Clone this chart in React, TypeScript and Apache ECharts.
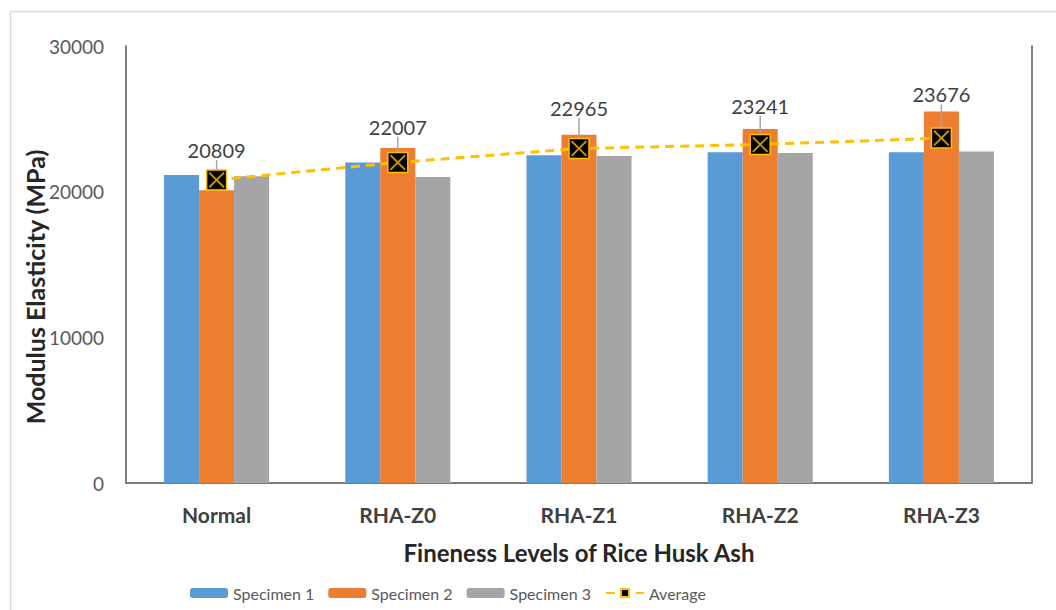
import React, { useEffect, useRef } from "react";
import * as echarts from "echarts";

const categories = ["Normal", "RHA-Z0", "RHA-Z1", "RHA-Z2", "RHA-Z3"];
const specimen1 = [21150, 22000, 22500, 22700, 22700];
const specimen2 = [20100, 23000, 23900, 24300, 25500];
const specimen3 = [21050, 21000, 22450, 22650, 22750];
const average = [20809, 22007, 22965, 23241, 23676];
const yTicks = [0, 10000, 20000, 30000];
const yTitle = "Modulus Elasticity (MPa)";
const xTitle = "Fineness Levels of Rice Husk Ash";

const X_PATH =
  "path://M1.6,0 L20,18.4 L18.4,20 L0,1.6 Z M18.4,0 L20,1.6 L1.6,20 L0,18.4 Z";

export default function App() {
  const ref = useRef<HTMLDivElement>(null);

  useEffect(() => {
    document.body.style.margin = "0";
    if (!ref.current) return;
    const chart = echarts.init(ref.current, undefined, { renderer: "svg" });
    const labelLift = [7, 13, 18, 16, 21];
    const font = "Lato";
    const option: any = {
      animation: false,
      backgroundColor: "#ffffff",
      textStyle: { fontFamily: font },
      graphic: [
        {
          type: "rect",
          shape: { x: 10.5, y: 11.5, width: 1060, height: 620 },
          style: { fill: "none", stroke: "#d9d9d9", lineWidth: 1.5 },
          silent: true,
        },
        {
          type: "text",
          x: 35,
          y: 287,
          rotation: Math.PI / 2,
          style: {
            text: yTitle,
            fontSize: 25,
            fontWeight: "bold",
            fill: "#262626",
            fontFamily: font,
            align: "center",
            verticalAlign: "middle",
          },
          silent: true,
        },
      ],
      grid: { left: 126, right: 24, top: 46, bottom: 127, containLabel: false },
      legend: {
        data: ["Specimen 1", "Specimen 2", "Specimen 3", "Average"],
        left: 185,
        top: 580,
        itemWidth: 38,
        itemHeight: 10,
        itemGap: 14,
        textStyle: { fontSize: 16, color: "#595959", fontFamily: font },
      },
      xAxis: [
        {
          type: "category",
          data: categories,
          axisTick: { show: false },
          axisLine: { show: true, lineStyle: { color: "#d9d9d9", width: 1.5 } },
          axisLabel: {
            fontSize: 21,
            fontWeight: "bold",
            color: "#404040",
            margin: 21,
            fontFamily: font,
          },
          name: xTitle,
          nameLocation: "middle",
          nameGap: 57,
          nameTextStyle: {
            fontSize: 24,
            fontWeight: "bold",
            color: "#262626",
            fontFamily: font,
          },
        },
        {
          type: "category",
          data: categories,
          position: "top",
          axisTick: { show: false },
          axisLabel: { show: false },
          axisLine: { show: true, lineStyle: { color: "#595959", width: 1.5 } },
        },
      ],
      yAxis: [
        {
          type: "value",
          min: yTicks[0],
          max: yTicks[yTicks.length - 1],
          interval: 10000,
          splitLine: { show: false },
          axisTick: { show: false },
          axisLine: { show: true, lineStyle: { color: "#7f7f7f", width: 2 } },
          axisLabel: {
            fontSize: 19,
            color: "#595959",
            margin: 22,
            fontFamily: font,
            formatter: (v: number) => String(v),
          },
        },
        {
          type: "value",
          min: yTicks[0],
          max: yTicks[yTicks.length - 1],
          interval: 10000,
          position: "right",
          splitLine: { show: false },
          axisTick: { show: false },
          axisLabel: { show: false },
          axisLine: { show: true, lineStyle: { color: "#595959", width: 1.5 } },
        },
      ],
      series: [
        {
          name: "Specimen 1",
          type: "bar",
          data: specimen1,
          barGap: "0%",
          barCategoryGap: "42%",
          itemStyle: { color: "#5B9BD5" },
        },
        {
          name: "Specimen 2",
          type: "bar",
          data: specimen2,
          barGap: "0%",
          barCategoryGap: "42%",
          itemStyle: { color: "#ED7D31" },
        },
        {
          name: "Specimen 3",
          type: "bar",
          data: specimen3,
          barGap: "0%",
          barCategoryGap: "42%",
          itemStyle: { color: "#A5A5A5" },
        },
        {
          name: "Average",
          type: "line",
          data: average,
          z: 10,
          symbol: "rect",
          symbolSize: 20,
          itemStyle: { color: "#000000", borderColor: "#FFC000", borderWidth: 1.5 },
          lineStyle: { color: "#FFC000", type: [9, 6], width: 3 },
          label: {
            show: true,
            position: "top",
            distance: 2,
            fontSize: 20,
            color: "#404040",
            fontFamily: font,
            formatter: "{c}",
          },
          labelLayout: (p: any) => ({ dy: -labelLift[p.dataIndex] }),
          labelLine: { show: true, lineStyle: { color: "#a5a5a5", width: 1.5 } },
        },
        {
          name: "AverageX",
          type: "scatter",
          data: average,
          z: 11,
          silent: true,
          symbol: X_PATH,
          symbolSize: 16,
          itemStyle: { color: "#FFC000" },
        },
      ],
    };
    chart.setOption(option);
    return () => chart.dispose();
  }, []);

  return <div ref={ref} style={{ width: 1056, height: 610 }} />;
}
